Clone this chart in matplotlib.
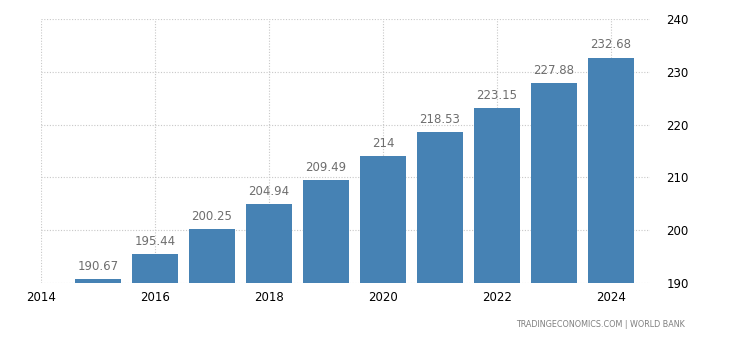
import matplotlib.pyplot as plt

years = [2015, 2016, 2017, 2018, 2019, 2020, 2021, 2022, 2023, 2024]
values = [190.67, 195.44, 200.25, 204.94, 209.49, 214, 218.53, 223.15, 227.88, 232.68]
labels = ["190.67", "195.44", "200.25", "204.94", "209.49", "214",
          "218.53", "223.15", "227.88", "232.68"]
xticks = [2014, 2016, 2018, 2020, 2022, 2024]
yticks = [190, 200, 210, 220, 230, 240]

plt.rcParams['font.family'] = ['DejaVu Sans']

fig = plt.figure(figsize=(7.3, 3.4), dpi=100)
ax = fig.add_axes([0.0562, 0.1676, 0.8338, 0.7765])

ax.bar(years, [v - 190 for v in values], bottom=190, width=0.8,
       color='#4682b4', zorder=3)
for x, v, s in zip(years, values, labels):
    ax.text(x, v + 1.2, s, ha='center', va='bottom', fontsize=8.5,
            color='#6e6e6e', zorder=4)

ax.set_xlim(2014, 2024.68)
ax.set_ylim(190, 240)
ax.set_xticks(xticks)
ax.set_yticks(yticks)
ax.yaxis.tick_right()
ax.tick_params(axis='both', length=0, labelsize=8.5, colors='black')
ax.tick_params(axis='y', pad=12)
ax.tick_params(axis='x', pad=6)
for sp in ax.spines.values():
    sp.set_visible(False)
ax.grid(True, linestyle=(0, (1, 1.5)), color='#c8c8c8', linewidth=0.8, zorder=0)

fig.text(0.938, 0.045, "TRADINGECONOMICS.COM | WORLD BANK", ha='right',
         va='center', fontsize=5.8, color='#7f7f7f')

fig.savefig('out.png', dpi=100)
